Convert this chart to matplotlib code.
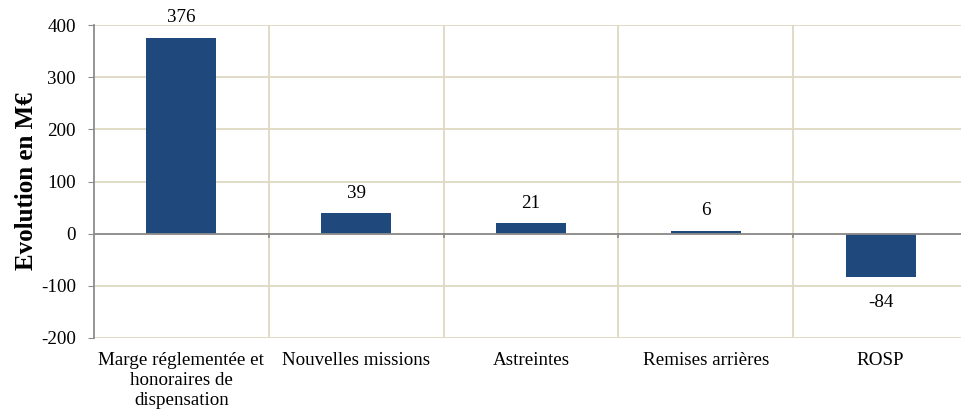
import matplotlib.pyplot as plt
import numpy as np

# Données
categories = ["Marge réglementée et\nhonoraires de\ndispensation", "Nouvelles missions",
              "Astreintes", "Remises arrières", "ROSP"]
valeurs = [376, 39, 21, 6, -84]
yticks = [-200, -100, 0, 100, 200, 300, 400]

plt.rcParams['font.family'] = ['Liberation Serif', 'DejaVu Serif']

fig = plt.figure(figsize=(9.61, 4.12), dpi=100)
W, H = 961, 412
ax = fig.add_axes([94 / W, (H - 338) / H, (968 - 94) / W, (338 - 25) / H])

x = np.arange(len(categories))
bleu = '#1F497D'
grille = '#DDD9C3'
gris = '#8C8C8C'
taille = 13.7

ax.bar(x, valeurs, width=0.4, color=bleu, zorder=3)

ax.set_xlim(-0.5, len(categories) - 0.5)
ax.set_ylim(-200, 400)
ax.set_yticks(yticks)
ax.set_yticklabels([str(v) for v in yticks], fontsize=taille)

# grille horizontale et verticale (entre catégories)
for v in yticks:
    ax.axhline(v, color=grille, lw=1.3, zorder=1)
for b in np.arange(0.5, len(categories) - 0.5, 1.0):
    ax.axvline(b, color=grille, lw=1.3, zorder=1)
ax.axhline(0, color=gris, lw=1.3, zorder=4)
for b in np.arange(0.5, len(categories) - 0.5, 1.0):
    ax.plot([b, b], [0, -7], color=gris, lw=1.3, zorder=4)

ax.set_xticks(x)
ax.set_xticklabels(categories, fontsize=taille, linespacing=1.22)
ax.tick_params(axis='x', length=0, pad=10)
ax.tick_params(axis='y', length=4, color=gris, pad=9)

for s in ['top', 'right', 'bottom']:
    ax.spines[s].set_visible(False)
ax.spines['left'].set_color(gris)
ax.spines['left'].set_linewidth(1.3)

# étiquettes de valeurs
for xi, v in zip(x, valeurs):
    if v >= 0:
        ax.annotate(str(v), (xi, v), xytext=(0, 8), textcoords='offset points',
                    ha='center', va='bottom', fontsize=taille)
    else:
        ax.annotate(str(v), (xi, v), xytext=(0, -12), textcoords='offset points',
                    ha='center', va='top', fontsize=taille)

ax.set_ylabel('Evolution en M€', fontsize=18, fontweight='bold')
ax.yaxis.set_label_coords(-(94 - 38) / (968 - 94), 0.5)

fig.savefig('out.png', dpi=100)
